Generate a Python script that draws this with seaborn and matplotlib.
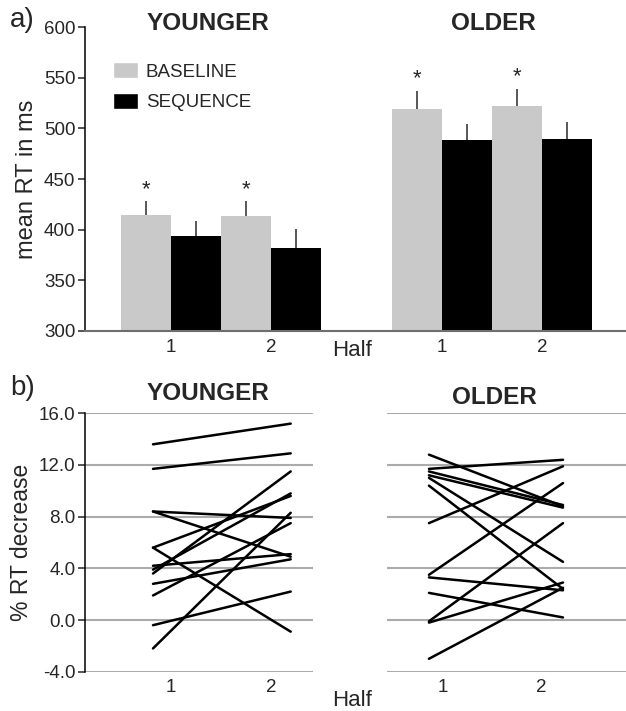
import matplotlib
matplotlib.use("Agg")
import matplotlib.pyplot as plt
from matplotlib.patches import Patch
import seaborn as sns
import pandas as pd

# panel a: mean RT (ms) per half, with upper error bars
halves = [1, 2]
young_baseline = [414.3, 413.7]
young_sequence = [394.0, 381.8]
young_baseline_err = [13.7, 14.3]
young_sequence_err = [15.0, 19.2]
old_baseline = [519.5, 522.0]
old_sequence = [488.3, 489.0]
old_baseline_err = [17.5, 17.0]
old_sequence_err = [16.4, 17.0]

# panel b: % RT decrease per participant, half 1 -> half 2
young_half1 = [13.6, 11.7, 8.4, 8.4, 5.6, 5.6, 4.2, 3.9, 3.6, 2.8, 1.9, -0.4, -2.2]
young_half2 = [15.2, 12.9, 7.9, 4.9, -0.9, 9.6, 5.1, 9.8, 11.5, 4.7, 7.5, 2.2, 8.3]
old_half1 = [12.8, 11.7, 11.5, 11.2, 11.0, 10.4, 7.5, 3.5, 3.3, 2.1, -0.1, -0.2, -3.0]
old_half2 = [8.8, 12.4, 8.9, 8.7, 4.5, 2.4, 11.9, 10.6, 2.3, 0.2, 7.5, 2.9, 2.5]

sns.set_style("white")
plt.rcParams["font.family"] = ["Liberation Sans", "DejaVu Sans"]

GRAY = "#c9c9c9"
GROUP_OFFSET = {"YOUNGER": 0.0, "OLDER": 2.71}

rows = []
for grp, base, seq, be, se in [("YOUNGER", young_baseline, young_sequence, young_baseline_err, young_sequence_err),
                               ("OLDER", old_baseline, old_sequence, old_baseline_err, old_sequence_err)]:
    for i, h in enumerate(halves):
        rows.append(dict(group=grp, half=h, pos=h + GROUP_OFFSET[grp], cond="BASELINE", rt=base[i], err=be[i]))
        rows.append(dict(group=grp, half=h, pos=h + GROUP_OFFSET[grp], cond="SEQUENCE", rt=seq[i], err=se[i]))
bars = pd.DataFrame(rows).sort_values(["cond", "pos"])

fig = plt.figure(figsize=(6.26, 7.11), dpi=100)
W, H = 626, 711

ax_a = fig.add_axes([85 / W, 1 - 331 / H, 541 / W, 304 / H])
sns.barplot(data=bars, x="pos", y="rt", hue="cond", native_scale=True, width=1.0, gap=0,
            palette={"BASELINE": GRAY, "SEQUENCE": "black"}, saturation=1, errorbar=None,
            legend=False, linewidth=0, edgecolor="none", ax=ax_a)

for cont, cond in zip(ax_a.containers, ["BASELINE", "SEQUENCE"]):
    sub = bars[bars["cond"] == cond].sort_values("pos")
    for bar, err in zip(cont, sub["err"]):
        xc = bar.get_x() + bar.get_width() / 2
        top = bar.get_height()
        ax_a.vlines(xc, top, top + err, color="#4a4a4a", lw=1.3)
        if cond == "BASELINE":
            ax_a.text(xc, top + err + 1.5, "*", ha="center", va="bottom", fontsize=16)

ax_a.set_ylim(300, 600)
ax_a.set_yticks(range(300, 601, 50))
ax_a.set_xlim(0.14, 5.55)
ax_a.set_xticks(bars["pos"].unique())
ax_a.set_xticklabels([str(h) for h in halves] * 2)
ax_a.set_xlabel("")
ax_a.set_ylabel("mean RT in ms", fontsize=17, labelpad=4)
ax_a.tick_params(axis="y", left=True, length=5, width=1.1, labelsize=13.5, pad=2)
ax_a.tick_params(axis="x", length=0, labelsize=13.5, pad=6)
for s in ["top", "right"]:
    ax_a.spines[s].set_visible(False)
ax_a.spines["left"].set_color("black")
ax_a.spines["left"].set_linewidth(1.1)
ax_a.spines["bottom"].set_color("#6e6e6e")
ax_a.spines["bottom"].set_linewidth(1.5)

ax_a.legend(handles=[Patch(facecolor=GRAY, label="BASELINE"), Patch(facecolor="black", label="SEQUENCE")],
            loc="upper left", bbox_to_anchor=(113 / W, 1 - 62 / H), bbox_transform=fig.transFigure,
            frameon=False, fontsize=13.5, handlelength=1.35, handleheight=0.95,
            handletextpad=0.4, labelspacing=0.65, borderpad=0, borderaxespad=0)

# panel b
def lines_panel(ax, h1, h2, tick_pos, xlim):
    df = pd.DataFrame({"subject": list(range(len(h1))) * 2,
                       "half": [1] * len(h1) + [2] * len(h2),
                       "pct": h1 + h2})
    sns.lineplot(data=df, x="half", y="pct", units="subject", estimator=None,
                 color="black", lw=1.8, ax=ax)
    ax.set_ylim(-4, 16)
    ax.set_yticks(range(-4, 17, 4))
    ax.set_xlim(*xlim)
    ax.set_xticks(tick_pos)
    ax.set_xticklabels([str(h) for h in halves])
    ax.set_xlabel("")
    ax.yaxis.grid(True, color="#ababab", lw=1.5)
    ax.set_axisbelow(True)
    ax.tick_params(axis="x", length=0, labelsize=13.5, pad=5)
    for s in ["top", "right", "bottom"]:
        ax.spines[s].set_visible(False)

bb = 1 - 671.7 / H
bh = 258.4 / H
ax_y = fig.add_axes([85 / W, bb, 228 / W, bh])
ax_o = fig.add_axes([387 / W, bb, 239 / W, bh])
lines_panel(ax_y, young_half1, young_half2, [1.13, 1.86], (0.506, 2.162))
lines_panel(ax_o, old_half1, old_half2, [1.10, 1.84], (0.687, 2.47))

ax_y.set_yticklabels([f"{v:.1f}" for v in range(-4, 17, 4)])
ax_y.set_ylabel("% RT decrease", fontsize=16.5, labelpad=4)
ax_y.tick_params(axis="y", left=True, length=5, width=1.1, labelsize=13.5, pad=2)
ax_y.spines["left"].set_color("black")
ax_y.spines["left"].set_linewidth(1.1)
ax_o.set_ylabel("")
ax_o.tick_params(axis="y", left=False, labelleft=False)
ax_o.spines["left"].set_visible(False)

# titles and labels
fig.text(10 / W, 1 - 20 / H, "a)", fontsize=20, va="center", ha="left")
fig.text(10 / W, 1 - 388 / H, "b)", fontsize=20, va="center", ha="left")
fig.text(208 / W, 1 - 23 / H, "YOUNGER", fontsize=17.5, fontweight="bold", ha="center", va="center")
fig.text(493 / W, 1 - 23 / H, "OLDER", fontsize=17.5, fontweight="bold", ha="center", va="center")
fig.text(208 / W, 1 - 393 / H, "YOUNGER", fontsize=17.5, fontweight="bold", ha="center", va="center")
fig.text(494 / W, 1 - 397 / H, "OLDER", fontsize=17.5, fontweight="bold", ha="center", va="center")
fig.text(352 / W, 1 - 350 / H, "Half", fontsize=16, ha="center", va="center")
fig.text(352 / W, 1 - 701 / H, "Half", fontsize=16, ha="center", va="center")

fig.savefig("out.png", dpi=100)
